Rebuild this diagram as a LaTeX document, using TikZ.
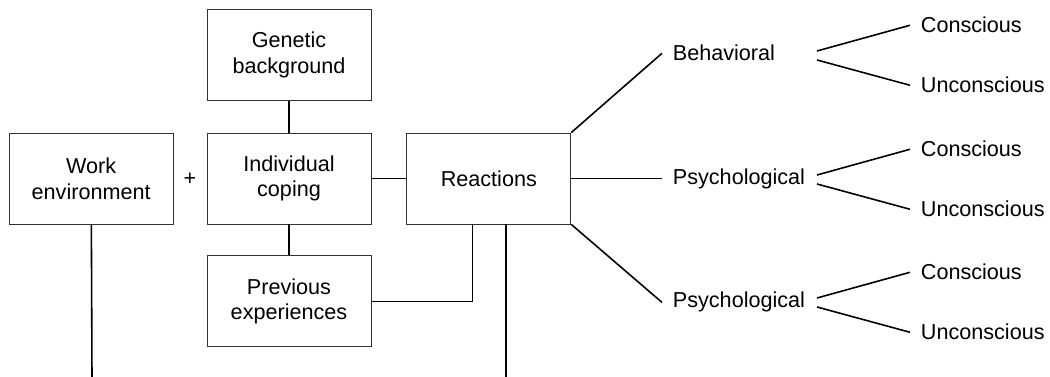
\documentclass[tikz,border=0pt]{standalone}
\usepackage{fontspec}
\setmainfont{Liberation Sans}
\usetikzlibrary{positioning}

\begin{document}
\begin{tikzpicture}[x=0.02cm,y=-0.02cm,
  font=\fontsize{12.3}{14.6}\selectfont,
  kasten/.style={draw=black!80,line width=0.5pt,minimum width=3.28cm,minimum height=1.82cm,align=center,inner sep=0pt},
  linie/.style={line width=0.9pt},
  wort/.style={inner xsep=6pt,inner ysep=0pt,anchor=base west}]
\useasboundingbox (0,0) rectangle (1050,377);
\node[kasten] (coping) at (289,178.5) {Individual\\coping}; %Mitte
\node[kasten,left=0.66cm of coping] (work) {Work\\environment};
\node[kasten,above=0.64cm of coping] (genetic) {Genetic\\background};
\node[kasten,below=0.62cm of coping] (previous) {Previous\\experiences};
\node[kasten,right=0.7cm of coping] (reactions) {Reactions};
\node (plus) at (190,179) {+};
\coordinate (w-end) at (92,377); %nach unten
\coordinate (r-end) at (506,377);
\draw[linie] (genetic) -- (coping);
\draw[linie] (coping) -- (previous);
\draw[linie] (coping) -- (reactions);
\draw[linie] (previous.east) -| ([xshift=-0.33cm]reactions.south);
\draw[linie] (work) -- (w-end);
\draw[linie] (r-end |- reactions.south) -- (r-end);
%Verzweigungen rechts
\foreach \lab/\y/\n in {Behavioral/61/1,Psychological/185/2,Psychological/308/3}{
  \node[wort] (mid\n) at (662,\y) {\lab};
  \node[wort] (con\n) at (910,\y-28) {Conscious};
  \node[wort] (unc\n) at (910,\y+32) {Unconscious};
  \coordinate (fa\n) at (817,\y-10);
  \coordinate (fb\n) at (817,\y-1);
  \draw[linie] (fa\n) -- (con\n.west);
  \draw[linie] (fb\n) -- (unc\n.west);
}
\draw[linie] (reactions.north east) -- (mid1.west);
\draw[linie] (reactions.east) -- (reactions.east -| mid2.west);
\draw[linie] (reactions.south east) -- (mid3.west);
\end{tikzpicture}
\end{document}
